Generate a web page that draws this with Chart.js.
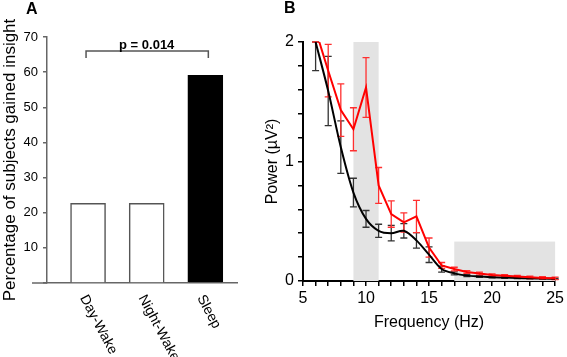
<!DOCTYPE html>
<html lang="en">
<head>
<meta charset="UTF-8">
<title>Insight and EEG power</title>
<script src="https://cdn.jsdelivr.net/npm/chart.js"></script>
<style>
  body { margin: 0; background: #fff; font-family: "Liberation Sans", Arial, sans-serif; }
  #wrap { position: relative; width: 567px; height: 357px; }
  #panelA { position: absolute; left: 0; top: 0; }
  #panelB { position: absolute; left: 240px; top: 0; }
  .tag { position: absolute; font-weight: bold; font-size: 16px; line-height: 16px; }
</style>
</head>
<body>
<div id="wrap">
  <canvas id="panelA" width="240" height="357"></canvas>
  <canvas id="panelB" width="327" height="357"></canvas>
  <div class="tag" style="left:26px;top:1px">A</div>
  <div class="tag" style="left:284px;top:0px">B</div>
</div>

<script>
  // panel A
  const groups = ['Day-Wake', 'Night-Wake', 'Sleep'];
  const insight = [22.7, 22.7, 59.1];
  const pText = 'p = 0.014';

  // panel B
  const freqs = [6, 7, 8, 9, 10, 11, 12, 13, 14, 15, 16, 17, 18, 19, 20, 21, 22, 23, 24, 25];
  const blackPower = [2.00, 1.59, 1.12, 0.74, 0.52, 0.42, 0.40, 0.42, 0.34, 0.22, 0.10, 0.064, 0.045, 0.038, 0.032, 0.029, 0.025, 0.022, 0.020, 0.018];
  const blackSE = [0.24, 0.29, 0.22, 0.12, 0.07, 0.055, 0.065, 0.06, 0.065, 0.065, 0.025, 0.012, 0.008, 0.007, 0.006, 0.006, 0.005, 0.005, 0.005, 0.005];
  const redPower = [2.10, 1.76, 1.43, 1.27, 1.62, 0.80, 0.56, 0.49, 0.54, 0.28, 0.13, 0.10, 0.075, 0.062, 0.050, 0.043, 0.037, 0.031, 0.026, 0.022];
  const redSE = [0.10, 0.22, 0.22, 0.18, 0.25, 0.15, 0.11, 0.08, 0.135, 0.08, 0.025, 0.015, 0.012, 0.012, 0.010, 0.010, 0.010, 0.010, 0.010, 0.010];
  const bandFrom = [9, 17];
  const bandTo = [11, 25];
  const bandTop = [2, 0.33];

  const FONT = '"Liberation Sans", Arial, sans-serif';
  Chart.defaults.font.family = FONT;
  Chart.defaults.color = '#000';

  const labelsA = {
    id: 'labelsA',
    afterDraw(chart) {
      const { ctx, scales: { x, y } } = chart;
      ctx.save();
      // the x axis runs a bit past the y axis
      ctx.strokeStyle = '#666';
      ctx.lineWidth = 1.5;
      ctx.beginPath();
      ctx.moveTo(x.left - 15, y.bottom);
      ctx.lineTo(x.left, y.bottom);
      ctx.stroke();

      ctx.fillStyle = '#000';
      ctx.font = '14px ' + FONT;
      ctx.textAlign = 'left';
      ctx.textBaseline = 'middle';
      groups.forEach((g, i) => {
        ctx.save();
        ctx.translate(x.getPixelForValue(i) - 5, y.bottom + 13);
        ctx.rotate(62 * Math.PI / 180);
        ctx.fillText(g, 0, 0);
        ctx.restore();
      });

      // significance bracket
      const x0 = x.getPixelForValue(0) - 2, x1 = x.getPixelForValue(2) + 3;
      const yb = y.getPixelForValue(66), yt = y.getPixelForValue(64);
      ctx.strokeStyle = '#555';
      ctx.lineWidth = 1.5;
      ctx.beginPath();
      ctx.moveTo(x0, yt); ctx.lineTo(x0, yb); ctx.lineTo(x1, yb); ctx.lineTo(x1, yt);
      ctx.stroke();
      ctx.font = 'bold 13px ' + FONT;
      ctx.textAlign = 'center';
      ctx.textBaseline = 'alphabetic';
      ctx.fillText(pText, x.getPixelForValue(1), yb - 2);
      ctx.restore();
    }
  };

  new Chart(document.getElementById('panelA'), {
    type: 'bar',
    data: {
      datasets: [{
        data: groups.map((g, i) => ({ x: i, y: insight[i] })),
        backgroundColor: ['#fff', '#fff', '#000'],
        borderColor: ['#555', '#555', '#000'],
        borderWidth: 1.5,
        barThickness: 35
      }]
    },
    options: {
      responsive: false,
      animation: false,
      plugins: { legend: { display: false }, tooltip: { enabled: false } },
      layout: { padding: { top: 37, right: 3, left: 0, bottom: 0 } },
      scales: {
        x: {
          type: 'linear', min: -0.7, max: 2.54, offset: false,
          grid: { display: false },
          ticks: { display: false },
          border: { color: '#666', width: 1.5 },
          afterFit: s => { s.height = 74; }
        },
        y: {
          min: 0, max: 70,
          ticks: { stepSize: 10, callback: v => v === 0 ? '' : v, font: { size: 13 }, padding: 5 },
          grid: { drawOnChartArea: false, tickLength: 4, color: '#666', lineWidth: 1.5 },
          border: { color: '#666', width: 1.5 },
          title: { display: true, text: 'Percentage of subjects gained insight', font: { size: 17 }, padding: { top: 0 } },
          afterFit: s => { s.width = 47; }
        }
      }
    },
    plugins: [labelsA]
  });

  const extrasB = {
    id: 'extrasB',
    beforeDatasetsDraw(chart) {
      const { ctx, scales: { x, y } } = chart;
      ctx.save();
      ctx.fillStyle = '#e3e3e3';
      bandFrom.forEach((f, i) => {
        const l = x.getPixelForValue(f), r = x.getPixelForValue(bandTo[i]);
        const t = y.getPixelForValue(bandTop[i]), b = y.getPixelForValue(0);
        ctx.fillRect(l, t, r - l, b - t);
      });
      const bars = (vals, se, color) => {
        ctx.strokeStyle = color;
        ctx.lineWidth = 1.3;
        vals.forEach((v, i) => {
          const px = x.getPixelForValue(freqs[i]);
          const lo = Math.max(0, Math.min(2, v - se[i]));
          const hi = Math.max(0, Math.min(2, v + se[i]));
          const pl = y.getPixelForValue(lo), ph = y.getPixelForValue(hi);
          ctx.beginPath();
          ctx.moveTo(px, pl); ctx.lineTo(px, ph);
          ctx.moveTo(px - 3.5, pl); ctx.lineTo(px + 3.5, pl);
          ctx.moveTo(px - 3.5, ph); ctx.lineTo(px + 3.5, ph);
          ctx.stroke();
        });
      };
      bars(blackPower, blackSE, '#333');
      bars(redPower, redSE, '#ff3030');
      ctx.restore();
    }
  };

  new Chart(document.getElementById('panelB'), {
    type: 'line',
    data: {
      datasets: [
        {
          data: freqs.map((f, i) => ({ x: f, y: redPower[i] })),
          borderColor: '#ff0000', borderWidth: 2, pointRadius: 0, tension: 0
        },
        {
          data: freqs.map((f, i) => ({ x: f, y: blackPower[i] })),
          borderColor: '#000', borderWidth: 2, pointRadius: 0, tension: 0.3
        }
      ]
    },
    options: {
      responsive: false,
      animation: false,
      plugins: { legend: { display: false }, tooltip: { enabled: false } },
      layout: { padding: { top: 42, right: 9, left: 0, bottom: 0 } },
      scales: {
        x: {
          type: 'linear', min: 5, max: 25,
          ticks: { stepSize: 1, autoSkip: false, maxRotation: 0, font: { size: 16 }, padding: 3,
                   callback: v => v % 5 === 0 ? v : '' },
          grid: { drawOnChartArea: false, tickLength: 5, color: '#000', lineWidth: 1.5 },
          border: { color: '#000', width: 2 },
          title: { display: true, text: 'Frequency (Hz)', font: { size: 16 }, padding: { bottom: 25 } },
          afterFit: s => { s.height = 76; }
        },
        y: {
          min: 0, max: 2,
          ticks: { stepSize: 0.2, font: { size: 16 }, padding: 4,
                   callback: v => Math.abs(v - Math.round(v)) < 1e-6 ? Math.round(v) : '' },
          grid: { drawOnChartArea: false, tickLength: 5, color: '#000', lineWidth: 1.5 },
          border: { color: '#000', width: 2 },
          title: { display: true, text: 'Power (µV²)', font: { size: 16 }, padding: { top: 23 } },
          afterFit: s => { s.width = 63; }
        }
      }
    },
    plugins: [extrasB]
  });
</script>
</body>
</html>
